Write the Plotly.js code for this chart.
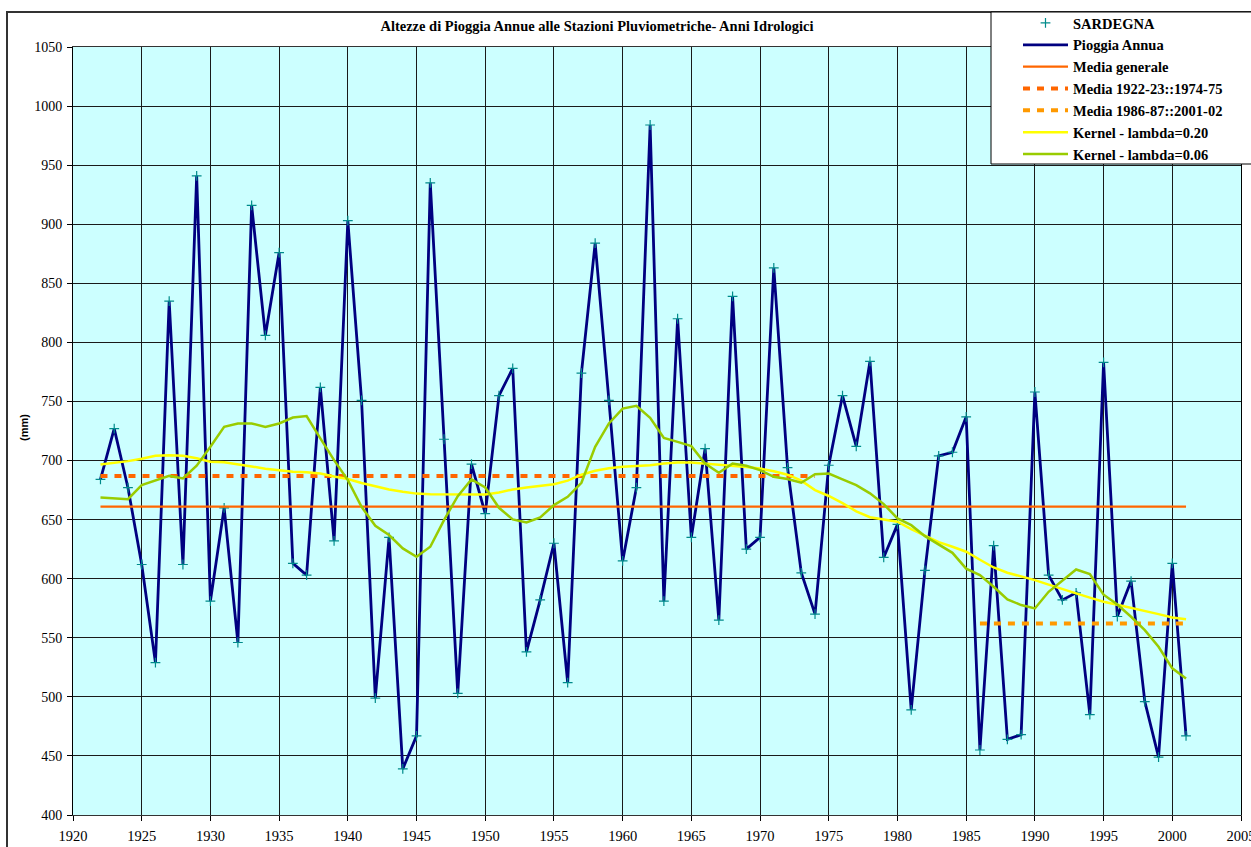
<!DOCTYPE html>
<html>
<head>
<meta charset="utf-8">
<script src="https://cdn.plot.ly/plotly-3.0.1.min.js"></script>
<style>html,body{margin:0;padding:0;background:#fff;}#chart{width:1251px;height:847px;}</style>
</head>
<body>
<div id="chart"></div>
<script>
const years = [1922,1923,1924,1925,1926,1927,1928,1929,1930,1931,1932,1933,1934,1935,1936,1937,1938,1939,1940,1941,1942,1943,1944,1945,1946,1947,1948,1949,1950,1951,1952,1953,1954,1955,1956,1957,1958,1959,1960,1961,1962,1963,1964,1965,1966,1967,1968,1969,1970,1971,1972,1973,1974,1975,1976,1977,1978,1979,1980,1981,1982,1983,1984,1985,1986,1987,1988,1989,1990,1991,1992,1993,1994,1995,1996,1997,1998,1999,2000,2001];
const rain = [684,727,677,612,529,835,612,941,581,660,546,916,806,876,613,603,762,632,903,751,499,635,439,467,935,718,503,697,655,755,778,538,582,630,512,774,884,751,615,677,984,581,820,635,710,565,839,625,635,863,694,605,570,696,755,712,784,618,646,489,607,704,707,737,455,628,464,468,758,603,582,588,485,783,568,598,496,449,613,467];
const kernel020 = [696.7,698,699.5,701.5,704,704.5,704,702,699,698.5,697,695,693,691.5,690.5,690,689,686.5,684.3,681,678,675.5,673.5,672,671.5,671.5,671.5,671.3,671.3,673,675.5,677.2,678.5,680,683,688,691.3,693.5,694.7,695.3,696,697.5,698.4,698.4,697.5,696.7,695.6,694.5,693.2,691,688,683,675,670,664,657,652,650,648.2,642,636.5,631,627,622.8,616,609.5,605,602,598.8,595,591,587.6,584,580.5,578,575.5,573,570,567.2,565.6];
const kernel006 = [668.8,668,667.3,679.2,683,687,684.8,695.6,711.6,728.5,731.4,731.4,728.5,731.4,736.4,737.6,718.7,700.3,683.4,660.8,644.8,636.9,625.6,618.5,627,649.6,669.9,684,677.2,660,650.2,647.6,651.9,662.3,669.3,681.2,711.6,731.4,744,746.3,736.1,719.2,715.8,712.2,697.5,689.6,697.5,695.6,691.9,686.2,684.3,681.2,688.5,689,684,679.2,672.2,663.1,651,645.3,636,629,621.9,608.5,603,593.2,582.5,577.7,574.8,588.9,598.2,607.8,603.9,586.5,578.1,567.8,556.5,542.4,524.1,515.6];
const mediaGenYears = [1922, 2001];
const mediaGen = [661, 661];
const media1Years = [1922, 1974];
const media1 = [687, 687];
const media2Years = [1986, 2001];
const media2 = [562, 562];
const xTicks = [1920,1925,1930,1935,1940,1945,1950,1955,1960,1965,1970,1975,1980,1985,1990,1995,2000,2005];

const serif = '"Liberation Serif", "Times New Roman", Times, serif';

const traces = [
  {x: years, y: rain, mode: 'lines', name: 'Pioggia Annua', legendrank: 2,
   line: {color: '#000080', width: 2.8}},
  {x: years, y: rain, mode: 'markers', name: 'SARDEGNA', legendrank: 1,
   marker: {symbol: 'cross-thin', size: 7, color: '#008B8B', line: {color: '#008B8B', width: 1.2}}},
  {x: mediaGenYears, y: mediaGen, mode: 'lines', name: 'Media generale', legendrank: 3,
   line: {color: '#FF6600', width: 2.2}},
  {x: media1Years, y: media1, mode: 'lines', name: 'Media 1922-23::1974-75', legendrank: 4,
   line: {color: '#FF6600', width: 4, dash: '7px,7px'}},
  {x: media2Years, y: media2, mode: 'lines', name: 'Media 1986-87::2001-02', legendrank: 5,
   line: {color: '#FF9900', width: 4, dash: '7px,7px'}},
  {x: years, y: kernel020, mode: 'lines', name: 'Kernel - lambda=0.20', legendrank: 6,
   line: {color: '#FFFF00', width: 2.5}},
  {x: years, y: kernel006, mode: 'lines', name: 'Kernel - lambda=0.06', legendrank: 7,
   line: {color: '#99CC00', width: 2.5}}
];

const layout = {
  width: 1251, height: 847,
  margin: {l: 73, r: 10, t: 47, b: 32, pad: 0, autoexpand: false},
  paper_bgcolor: '#ffffff',
  plot_bgcolor: '#CCFFFF',
  font: {family: serif, color: '#000'},
  title: {text: '<b>Altezze di Pioggia Annue alle Stazioni Pluviometriche- Anni Idrologici</b>',
    font: {family: serif, size: 14.5, color: '#000'},
    xref: 'paper', x: 0.4486, xanchor: 'center', yref: 'container', y: 1 - 26/847, yanchor: 'middle'},
  showlegend: true,
  legend: {x: (1018-73)/1168, y: (815-7)/768, xanchor: 'left', yanchor: 'top',
    bgcolor: 'rgba(0,0,0,0)', borderwidth: 0,
    font: {family: serif, size: 14.5, color: '#000', weight: 'bold'}, itemwidth: 45, tracegroupgap: 0},
  xaxis: {range: [1920, 2005], tickvals: xTicks, ticktext: xTicks.map(String),
    showgrid: true, gridcolor: '#1a1a1a', gridwidth: 1, zeroline: false,
    showline: true, linecolor: '#333', linewidth: 1, mirror: true,
    ticks: 'outside', ticklen: 5, tickcolor: '#000', ticklabelstandoff: 3, ticklabeloverflow: 'allow',
    tickfont: {family: serif, size: 14.5, color: '#000'}},
  yaxis: {range: [400, 1050], dtick: 50, tick0: 400,
    showgrid: true, gridcolor: '#1a1a1a', gridwidth: 1, zeroline: false,
    showline: true, linecolor: '#000', linewidth: 1, mirror: true,
    ticks: 'outside', ticklen: 5, tickcolor: '#000', ticklabelstandoff: 2,
    tickfont: {family: serif, size: 14, color: '#000'}},
  annotations: [
    {text: '<b>(mm)</b>', xref: 'paper', yref: 'paper', x: (24-73)/1168, y: (815-428)/768, textangle: -90,
     showarrow: false, xanchor: 'center', yanchor: 'middle', font: {family: '"Liberation Sans", Arial, sans-serif', size: 11, color: '#000'}}
  ],
  shapes: [
    {type: 'rect', xref: 'paper', yref: 'paper', x0: (7-73)/1168, x1: 1.2, y0: -0.2, y1: (815-12)/768,
     line: {color: '#333', width: 2}, fillcolor: 'rgba(0,0,0,0)', layer: 'above'},
    {type: 'rect', xref: 'paper', yref: 'paper', x0: (991-73)/1168, x1: 1.2, y0: (815-164)/768, y1: (815-12)/768,
     line: {color: '#000', width: 1}, fillcolor: '#ffffff', layer: 'above'}
  ]
};

Plotly.newPlot('chart', traces, layout, {displayModeBar: false, staticPlot: true});
</script>
</body>
</html>
